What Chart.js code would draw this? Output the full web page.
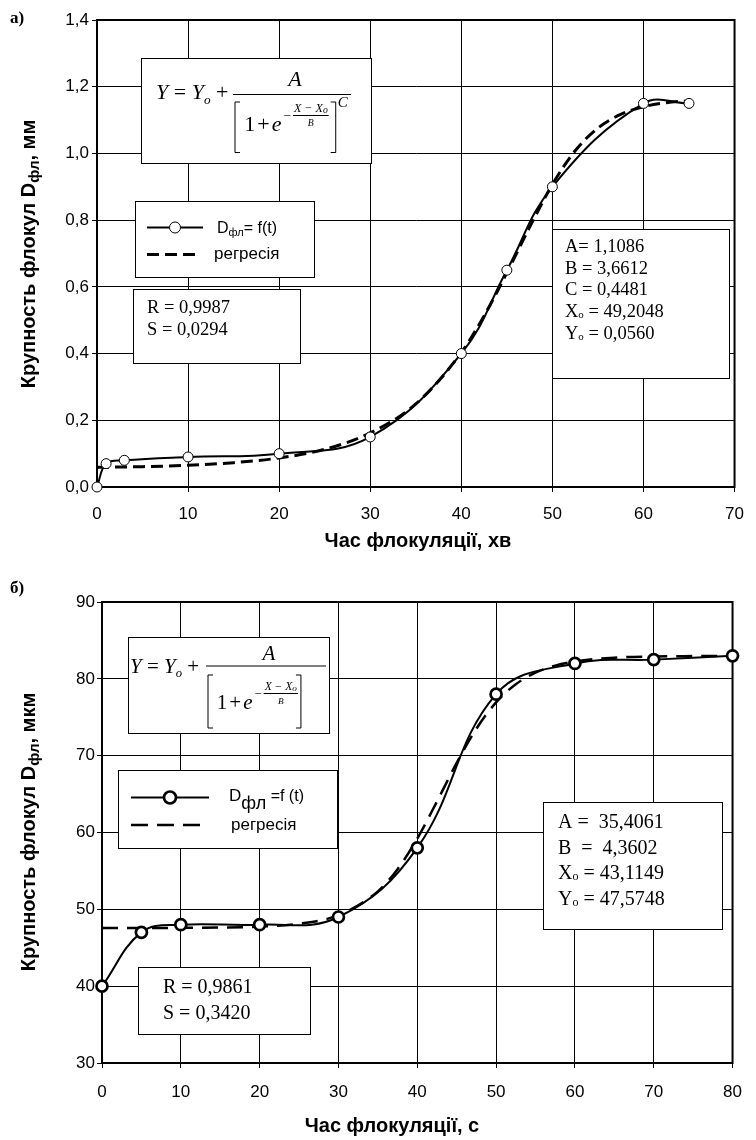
<!DOCTYPE html>
<html>
<head>
<meta charset="utf-8">
<script src="https://cdn.jsdelivr.net/npm/chart.js@4.4.1/dist/chart.umd.min.js"></script>
<style>
  html, body { margin: 0; padding: 0; background: #fff; }
  .wrap { position: relative; width: 756px; height: 1140px; }
  canvas { position: absolute; left: 0; }
</style>
</head>
<body>
<div class="wrap">
  <canvas id="chart-a" width="756" height="570" style="top:0"></canvas>
  <canvas id="chart-b" width="756" height="570" style="top:570px"></canvas>
</div>
<script>
// ---- а) minutes, mm ----
const timeA = [0, 1, 3, 10, 20, 30, 40, 45, 50, 60, 65];
const sizeA = [0.00, 0.07, 0.08, 0.09, 0.10, 0.15, 0.40, 0.65, 0.90, 1.15, 1.15];
const regTimeA = [0, 5, 10, 15, 20, 25, 30, 35, 40, 42.5, 45, 47.5, 50, 52.5, 55, 57.5, 60, 62.5, 65];
const regSizeA = [0.059, 0.061, 0.065, 0.073, 0.087, 0.113, 0.162, 0.249, 0.403, 0.513, 0.642, 0.779, 0.907, 1.008, 1.076, 1.117, 1.140, 1.152, 1.158];
const xTicksA = ['0', '10', '20', '30', '40', '50', '60', '70'];
const yTicksA = ['0,0', '0,2', '0,4', '0,6', '0,8', '1,0', '1,2', '1,4'];

// ---- б) seconds, mkm ----
const timeB = [0, 5, 10, 20, 30, 40, 50, 60, 70, 80];
const sizeB = [40, 47, 48, 48, 49, 58, 78, 82, 82.5, 83];
const regTimeB = [0, 5, 10, 15, 20, 25, 30, 35, 37.5, 40, 42.5, 45, 47.5, 50, 52.5, 55, 57.5, 60, 65, 70, 75, 80];
const regSizeB = [47.57, 47.58, 47.59, 47.63, 47.75, 48.12, 49.24, 52.34, 55.23, 59.21, 64.04, 69.05, 73.50, 76.93, 79.30, 80.80, 81.72, 82.26, 82.75, 82.91, 82.96, 82.98];
const xTicksB = ['0', '10', '20', '30', '40', '50', '60', '70', '80'];
const yTicksB = ['30', '40', '50', '60', '70', '80', '90'];

const SANS = 'Liberation Sans, Arial, sans-serif';
const SERIF = 'Liberation Serif, Times New Roman, serif';

function pts(xs, ys) {
    return xs.map((x, i) => ({x: x, y: ys[i]}));
}

// draws text pieces one after another, returns the end x
function rich(ctx, x, y, parts) {
    parts.forEach(p => {
        ctx.font = p[1];
        ctx.fillText(p[0], x, y + (p[2] || 0));
        x += ctx.measureText(p[0]).width;
    });
    return x;
}

function richWidth(ctx, parts) {
    let w = 0;
    parts.forEach(p => { ctx.font = p[1]; w += ctx.measureText(p[0]).width; });
    return w;
}

function hline(ctx, x1, x2, y, w) {
    ctx.lineWidth = w || 1;
    ctx.beginPath(); ctx.moveTo(x1, y); ctx.lineTo(x2, y); ctx.stroke();
}

function bracket(ctx, x, top, bottom, dir) {
    ctx.lineWidth = 1;
    ctx.beginPath();
    ctx.moveTo(x + dir * 5, top);
    ctx.lineTo(x, top);
    ctx.lineTo(x, bottom);
    ctx.lineTo(x + dir * 5, bottom);
    ctx.stroke();
}

function drawFormula(ctx, f) {
    const it = s => 'italic ' + s + 'px ' + SERIF;
    const up = s => s + 'px ' + SERIF;
    const big = f.size, small = f.size * 0.55;
    const x0 = f.x, y0 = f.y;
    ctx.fillStyle = '#000';
    ctx.strokeStyle = '#000';
    ctx.textAlign = 'left';
    ctx.textBaseline = 'alphabetic';
    rich(ctx, x0 + f.yx, y0 + f.base, [
        ['Y', it(big)], [' = ', up(big)], ['Y', it(big)],
        ['o', it(big * 0.6), big * 0.22], [' +', up(big)]
    ]);
    hline(ctx, x0 + f.l1, x0 + f.l2, y0 + f.ly);
    ctx.textAlign = 'center';
    ctx.font = it(big);
    ctx.fillText('A', x0 + (f.l1 + f.l2) / 2 + 3, y0 + f.nb);
    ctx.textAlign = 'left';
    bracket(ctx, x0 + f.b1, y0 + f.bt, y0 + f.bb, 1);
    let dx = x0 + f.b1 + big * 0.42;
    const db = y0 + f.db;
    dx = rich(ctx, dx, db, [['1', up(big)]]);
    dx = rich(ctx, dx + 2, db, [['+', up(big)]]);
    dx = rich(ctx, dx + 2, db, [['e', it(big)]]);
    const eb = y0 + f.eb;
    dx = rich(ctx, dx + 2, eb + small * 0.7, [['\u2212', up(small * 1.1)]]);
    const nx = dx + 3;
    const nx2 = rich(ctx, nx, eb, [['X \u2212 X', it(small)], ['o', it(small * 0.8), 1]]);
    hline(ctx, nx - 1, nx2 + 1, eb + 3.5);
    ctx.textAlign = 'center';
    ctx.font = it(small * 0.8);
    ctx.fillText('B', (nx + nx2) / 2, eb + 14);
    ctx.textAlign = 'left';
    const rb = nx2 + f.gap;
    bracket(ctx, rb, y0 + f.bt, y0 + f.bb, -1);
    if (f.power) {
        ctx.font = it(big * 0.68);
        ctx.fillText(f.power, rb + 2, y0 + f.pb);
    }
}

function drawLegend(ctx, g) {
    ctx.strokeStyle = '#000';
    ctx.fillStyle = '#000';
    // measured series sample
    hline(ctx, g.lx1, g.lx2, g.ly1, g.lineW);
    ctx.beginPath();
    ctx.arc((g.lx1 + g.lx2) / 2, g.ly1, g.r, 0, Math.PI * 2);
    ctx.fillStyle = '#fff';
    ctx.fill();
    ctx.lineWidth = g.rw;
    ctx.stroke();
    ctx.fillStyle = '#000';
    ctx.textAlign = 'left';
    ctx.textBaseline = 'alphabetic';
    rich(ctx, g.tx1, g.tb1, g.label1);
    // regression sample
    ctx.setLineDash(g.dash);
    hline(ctx, g.lx1, g.dx2, g.ly2, g.dashW);
    ctx.setLineDash([]);
    rich(ctx, g.tx2, g.tb2, g.label2);
}

const decor = {
    id: 'decor',
    beforeDatasetsDraw(chart, args, o) {
        const ctx = chart.ctx, a = chart.chartArea;
        ctx.save();
        o.boxes.forEach(b => {
            ctx.fillStyle = '#fff';
            ctx.fillRect(b[0], b[1], b[2] - b[0], b[3] - b[1]);
            ctx.strokeStyle = '#000';
            ctx.lineWidth = 1;
            ctx.strokeRect(Math.round(b[0]) + 0.5, Math.round(b[1]) + 0.5, Math.round(b[2] - b[0]), Math.round(b[3] - b[1]));
        });
        drawFormula(ctx, o.formula);
        drawLegend(ctx, o.legend);
        ctx.fillStyle = '#000';
        ctx.textAlign = 'left';
        ctx.textBaseline = 'alphabetic';
        o.notes.forEach(n => {
            n.lines.forEach((ln, i) => rich(ctx, n.x, n.y + i * n.step, ln));
        });
        ctx.strokeStyle = '#000';
        ctx.lineWidth = 2;
        ctx.strokeRect(a.left, a.top, a.right - a.left, a.bottom - a.top);
        ctx.restore();
    },
    afterDraw(chart, args, o) {
        const ctx = chart.ctx;
        ctx.save();
        ctx.fillStyle = '#000';
        ctx.textAlign = 'left';
        ctx.textBaseline = 'alphabetic';
        ctx.font = 'bold 17px ' + SERIF;
        ctx.fillText(o.panel, 10, o.panelY);
        // x title
        ctx.font = 'bold 20px ' + SANS;
        ctx.textAlign = 'center';
        ctx.textBaseline = 'middle';
        ctx.fillText(o.xTitle, o.xTitleX, o.xTitleY);
        // y title, rotated, with subscript
        ctx.textAlign = 'left';
        ctx.textBaseline = 'alphabetic';
        const w = richWidth(ctx, o.yTitle);
        ctx.translate(o.yTitleX, o.yTitleY);
        ctx.rotate(-Math.PI / 2);
        rich(ctx, -w / 2, 0, o.yTitle);
        ctx.restore();
    }
};

function scalesFor(xMax, yMin, yMax, yStep, xLabels, yLabels, yWidth, xHeight, xPad, yPad) {
    const tickFont = {family: SANS, size: 17};
    return {
        x: {
            type: 'linear', min: 0, max: xMax,
            ticks: {stepSize: 10, autoSkip: false, maxRotation: 0, color: '#000', font: tickFont, padding: xPad,
                callback: (v, i) => xLabels[i]},
            grid: {color: '#000', lineWidth: 1, drawTicks: true, tickLength: 5, tickColor: '#000'},
            border: {color: '#000', width: 2},
            afterFit: s => { s.height = xHeight; }
        },
        y: {
            type: 'linear', min: yMin, max: yMax,
            ticks: {stepSize: yStep, autoSkip: false, color: '#000', font: tickFont, padding: yPad,
                callback: (v, i) => yLabels[i]},
            grid: {color: '#000', lineWidth: 1, drawTicks: true, tickLength: 5, tickColor: '#000'},
            border: {color: '#000', width: 2},
            afterFit: s => { s.width = yWidth; }
        }
    };
}

const tnr = s => s + 'px ' + SERIF;
const titleA = [['Крупность флокул D', 'bold 20px ' + SANS], ['фл', 'bold 15px ' + SANS, 4], [', мм', 'bold 20px ' + SANS]];
const titleB = [['Крупность флокул D', 'bold 20px ' + SANS], ['фл', 'bold 15px ' + SANS, 4], [', мкм', 'bold 20px ' + SANS]];

new Chart(document.getElementById('chart-a'), {
    type: 'scatter',
    data: {
        datasets: [{
            label: 'Dфл= f(t)',
            data: pts(timeA, sizeA),
            showLine: true,
            clip: false,
            borderColor: '#000',
            borderWidth: 2,
            tension: 0.4,
            pointRadius: 5,
            pointBackgroundColor: '#fff',
            pointBorderColor: '#000',
            pointBorderWidth: 1
        }, {
            label: 'регресія',
            data: pts(regTimeA, regSizeA),
            showLine: true,
            clip: false,
            borderColor: '#000',
            borderWidth: 3,
            borderDash: [12, 6],
            cubicInterpolationMode: 'monotone',
            pointRadius: 0
        }]
    },
    options: {
        responsive: false,
        animation: false,
        layout: {padding: {top: 20, right: 11, left: 0, bottom: 0}},
        plugins: {
            legend: {display: false},
            tooltip: {enabled: false},
            decor: {
                panel: 'а)', panelY: 23,
                xTitle: 'Час флокуляції, хв', xTitleX: 418, xTitleY: 541,
                yTitle: titleA, yTitleX: 35, yTitleY: 254,
                boxes: [[141, 58, 371, 163], [135, 201, 314, 277], [133, 289, 300, 363], [552, 229, 729, 378]],
                formula: {x: 141, y: 58, size: 22, yx: 15, base: 41, l1: 92, l2: 210, ly: 36.5, nb: 28,
                    b1: 94, bt: 44, bb: 94.5, db: 73, eb: 54, gap: 8, power: 'C', pb: 49},
                legend: {lx1: 147, lx2: 203, ly1: 227.5, lineW: 2, r: 5.5, rw: 1, tx1: 217, tb1: 233,
                    label1: [['D', '16px ' + SANS], ['фл', '11px ' + SANS, 3], ['= f(t)', '16px ' + SANS]],
                    dash: [12, 6], dx2: 197, ly2: 254.5, dashW: 3, tx2: 214, tb2: 258.5,
                    label2: [['регресія', '17px ' + SANS]]},
                notes: [
                    {x: 147, y: 313, step: 21.7, lines: [
                        [['R = 0,9987', tnr(18.5)]],
                        [['S = 0,0294', tnr(18.5)]]
                    ]},
                    {x: 565, y: 252, step: 21.7, lines: [
                        [['A= 1,1086', tnr(18.5)]],
                        [['B = 3,6612', tnr(18.5)]],
                        [['C = 0,4481', tnr(18.5)]],
                        [['X', tnr(18.5)], ['o', tnr(11), 1], [' = 49,2048', tnr(18.5)]],
                        [['Y', tnr(18.5)], ['o', tnr(11), 1], [' = 0,0560', tnr(18.5)]]
                    ]}
                ]
            }
        },
        scales: scalesFor(70, 0, 1.4, 0.2, xTicksA, yTicksA, 97, 83, 12, 3)
    },
    plugins: [decor]
});

new Chart(document.getElementById('chart-b'), {
    type: 'scatter',
    data: {
        datasets: [{
            label: 'Dфл =f (t)',
            data: pts(timeB, sizeB),
            showLine: true,
            clip: false,
            borderColor: '#000',
            borderWidth: 2,
            tension: 0.4,
            pointRadius: 5.5,
            pointBackgroundColor: '#fff',
            pointBorderColor: '#000',
            pointBorderWidth: 2.7
        }, {
            label: 'регресія',
            data: pts(regTimeB, regSizeB),
            showLine: true,
            clip: false,
            borderColor: '#000',
            borderWidth: 2.5,
            borderDash: [16, 9],
            cubicInterpolationMode: 'monotone',
            pointRadius: 0
        }]
    },
    options: {
        responsive: false,
        animation: false,
        layout: {padding: {top: 32, right: 12, left: 0, bottom: 0}},
        plugins: {
            legend: {display: false},
            tooltip: {enabled: false},
            decor: {
                panel: 'б)', panelY: 23,
                xTitle: 'Час флокуляції, с', xTitleX: 392, xTitleY: 556,
                yTitle: titleB, yTitleX: 35, yTitleY: 262,
                boxes: [[128, 67, 329, 163], [118, 200, 337, 278], [138, 397, 310, 464], [543, 232, 722, 359]],
                formula: {x: 128, y: 67, size: 21, yx: 2, base: 35.5, l1: 78, l2: 198, ly: 29, nb: 23,
                    b1: 80, bt: 38, bb: 91, db: 72, eb: 53, gap: 4, power: '', pb: 0},
                legend: {lx1: 131, lx2: 209, ly1: 227.5, lineW: 2, r: 6, rw: 2.7, tx1: 229, tb1: 231,
                    label1: [['D', '17px ' + SANS], ['фл', '18px ' + SANS, 8], [' =f (t)', '16px ' + SANS]],
                    dash: [17, 9], dx2: 201, ly2: 255, dashW: 2.5, tx2: 231, tb2: 260,
                    label2: [['регресія', '17px ' + SANS]]},
                notes: [
                    {x: 163, y: 423, step: 26, lines: [
                        [['R = 0,9861', tnr(20)]],
                        [['S = 0,3420', tnr(20)]]
                    ]},
                    {x: 558, y: 258, step: 25.5, lines: [
                        [['A =  35,4061', tnr(20)]],
                        [['B  =  4,3602', tnr(20)]],
                        [['X', tnr(20)], ['o', tnr(12), 1], [' = 43,1149', tnr(20)]],
                        [['Y', tnr(20)], ['o', tnr(12), 1], [' = 47,5748', tnr(20)]]
                    ]}
                ]
            }
        },
        scales: scalesFor(80, 30, 90, 10, xTicksB, yTicksB, 102, 77, 14, 2)
    },
    plugins: [decor]
});
</script>
</body>
</html>
